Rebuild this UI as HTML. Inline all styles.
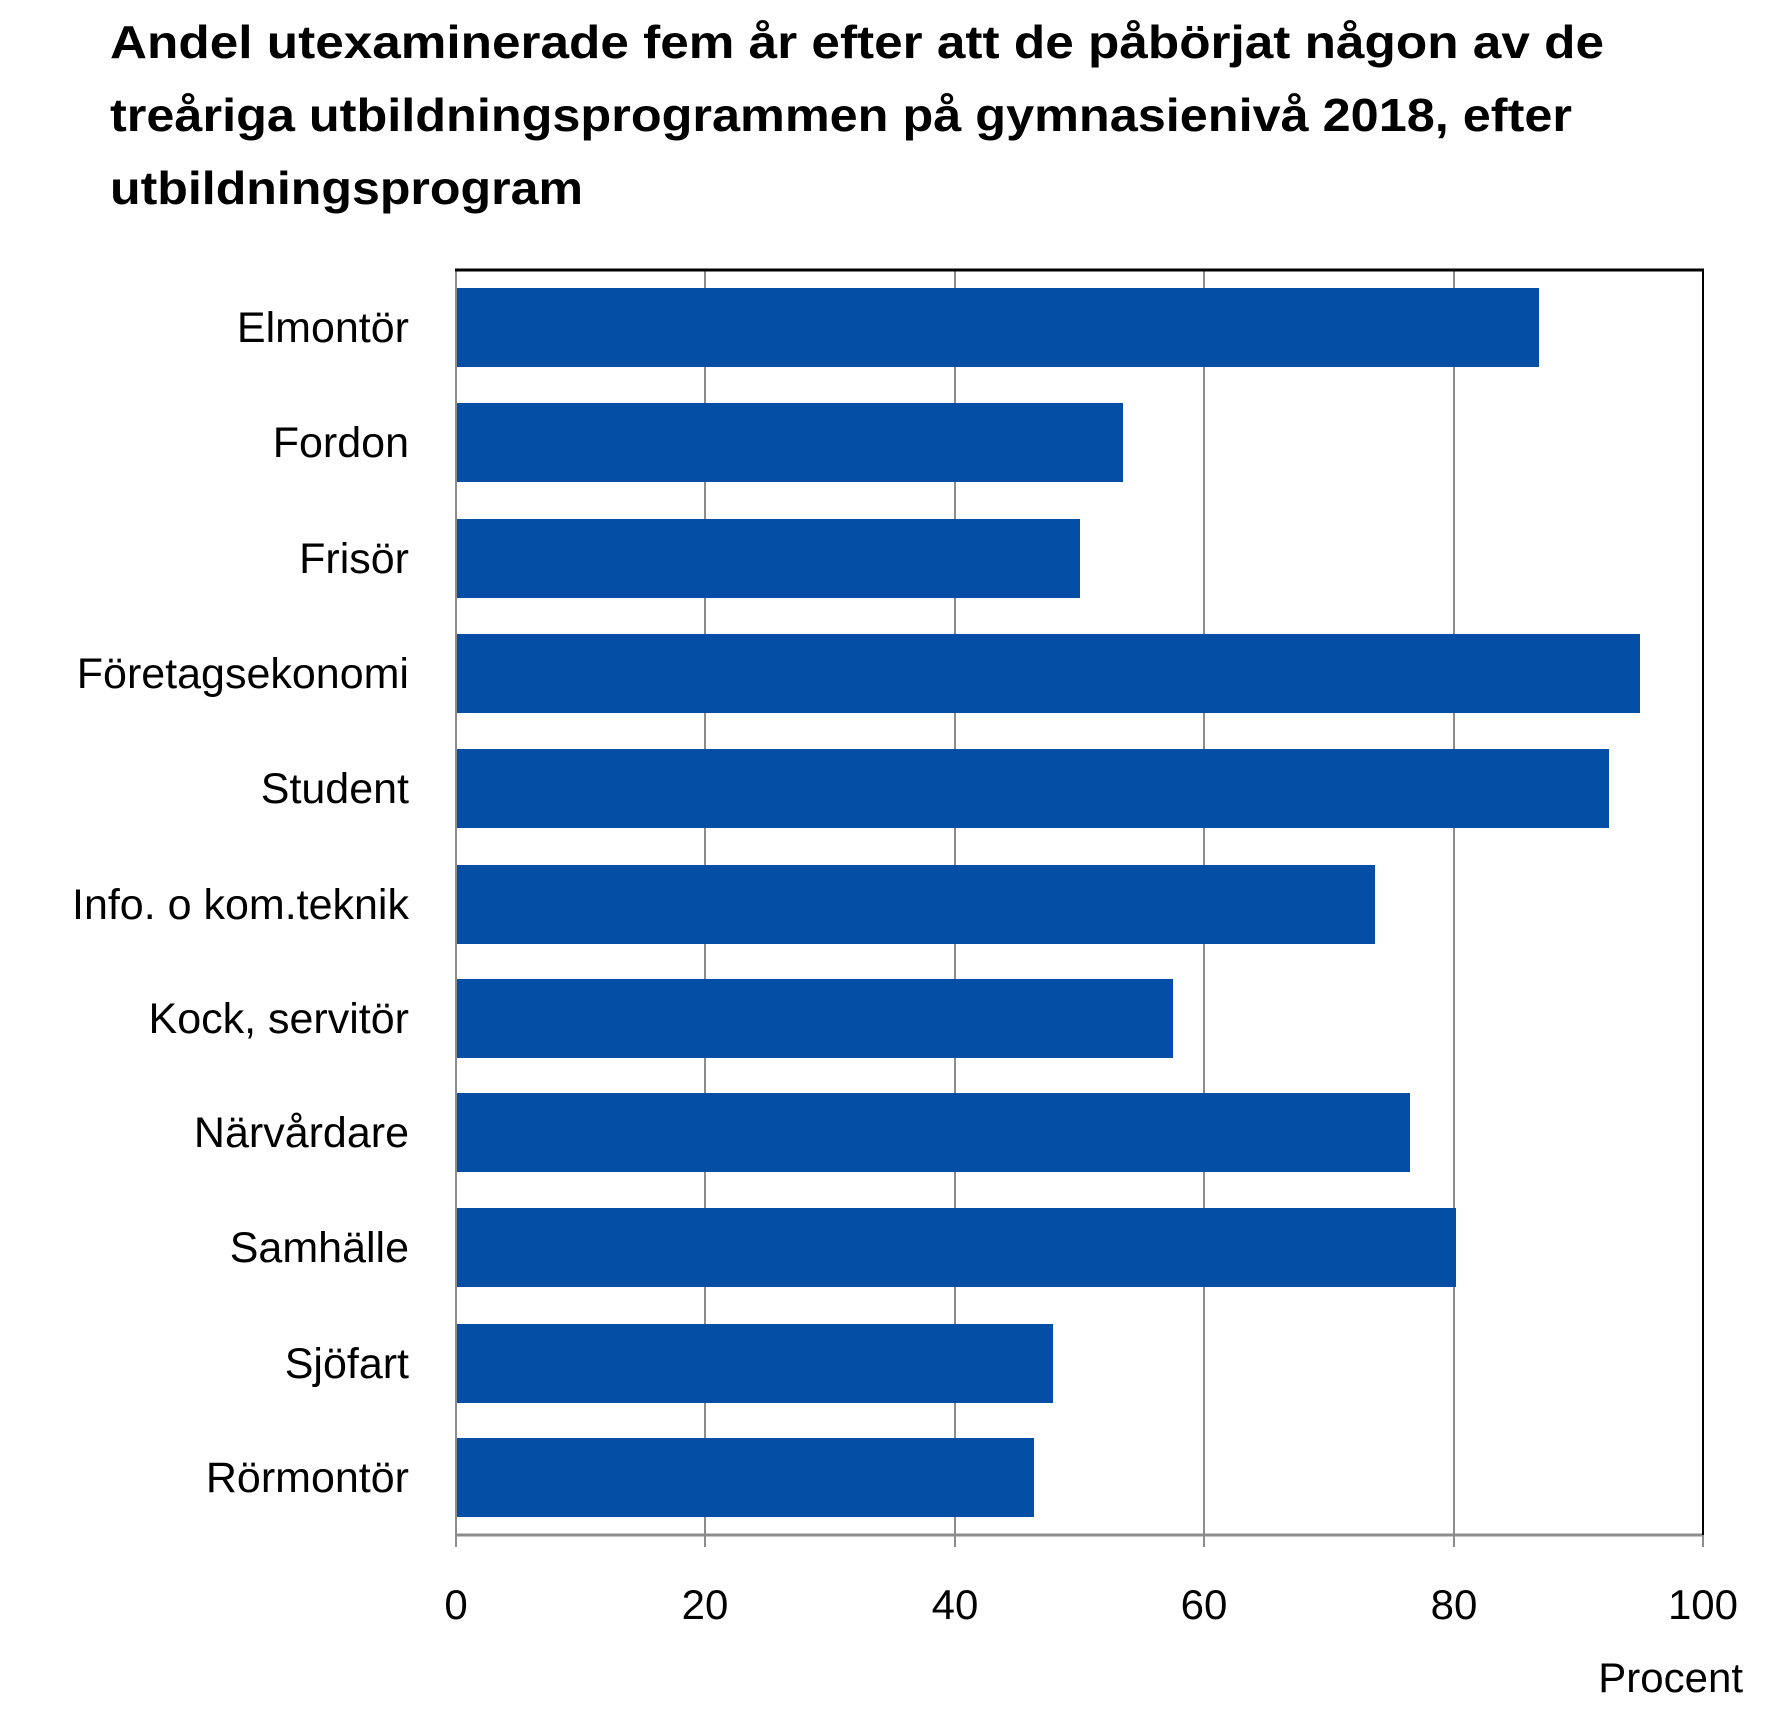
<!DOCTYPE html>
<html><head><meta charset="utf-8"><style>
html,body{margin:0;padding:0;background:#fff;}
svg{display:block;}
text{font-family:"Liberation Sans",sans-serif;fill:#000;}
</style></head><body>
<svg width="1772" height="1730" viewBox="0 0 1772 1730" xmlns="http://www.w3.org/2000/svg">
<g font-weight="bold" font-size="46">
<text x="110" y="58" textLength="1494" lengthAdjust="spacingAndGlyphs">Andel utexaminerade fem år efter att de påbörjat någon av de</text>
<text x="110" y="131" textLength="1462" lengthAdjust="spacingAndGlyphs">treåriga utbildningsprogrammen på gymnasienivå 2018, efter</text>
<text x="110" y="204" textLength="473" lengthAdjust="spacingAndGlyphs">utbildningsprogram</text>
</g>
<g stroke="#8c8c8c" stroke-width="2">
<line x1="705" y1="269" x2="705" y2="1547"/>
<line x1="955" y1="269" x2="955" y2="1547"/>
<line x1="1204" y1="269" x2="1204" y2="1547"/>
<line x1="1454" y1="269" x2="1454" y2="1547"/>
<line x1="1703" y1="1535" x2="1703" y2="1547"/>
<line x1="456" y1="269" x2="456" y2="1547"/>
<line x1="456" y1="1535" x2="1703" y2="1535" stroke-width="3"/>
</g>
<line x1="455" y1="270" x2="1704" y2="270" stroke="#000" stroke-width="3"/>
<line x1="1703" y1="269" x2="1703" y2="1535" stroke="#000" stroke-width="2"/>
<g fill="#054ea5">
<rect x="457" y="288" width="1082" height="79"/>
<rect x="457" y="403" width="666" height="79"/>
<rect x="457" y="519" width="623" height="79"/>
<rect x="457" y="634" width="1183" height="79"/>
<rect x="457" y="749" width="1152" height="79"/>
<rect x="457" y="865" width="918" height="79"/>
<rect x="457" y="979" width="716" height="79"/>
<rect x="457" y="1093" width="953" height="79"/>
<rect x="457" y="1208" width="999" height="79"/>
<rect x="457" y="1324" width="596" height="79"/>
<rect x="457" y="1438" width="577" height="79"/>
</g>
<g font-size="43" text-anchor="end">
<text x="409" y="342">Elmontör</text>
<text x="409" y="457">Fordon</text>
<text x="409" y="573">Frisör</text>
<text x="409" y="688">Företagsekonomi</text>
<text x="409" y="803">Student</text>
<text x="409" y="919">Info. o kom.teknik</text>
<text x="409" y="1033">Kock, servitör</text>
<text x="409" y="1147">Närvårdare</text>
<text x="409" y="1262">Samhälle</text>
<text x="409" y="1378">Sjöfart</text>
<text x="409" y="1492">Rörmontör</text>
</g>
<g font-size="42" text-anchor="middle">
<text x="456" y="1619">0</text>
<text x="705" y="1619">20</text>
<text x="955" y="1619">40</text>
<text x="1204" y="1619">60</text>
<text x="1454" y="1619">80</text>
<text x="1703" y="1619">100</text>
</g>
<text x="1743" y="1692" font-size="42" text-anchor="end">Procent</text>
</svg>
</body></html>
